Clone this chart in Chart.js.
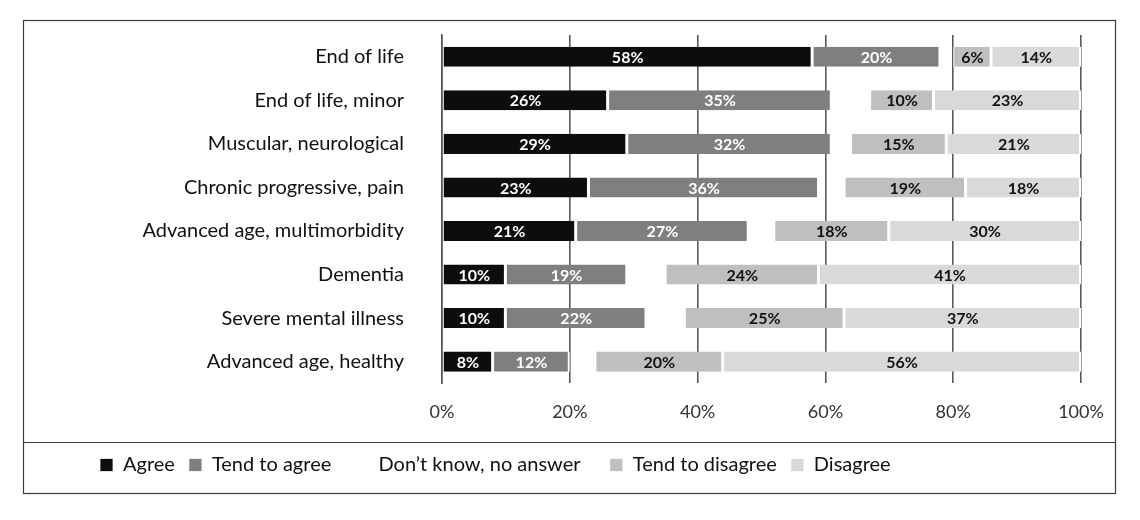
<!DOCTYPE html>
<html>
<head>
<meta charset="utf-8">
<style>
  html, body { margin: 0; padding: 0; background: #fff; }
  #wrap { width: 1140px; height: 520px; }
</style>
<script src="https://cdn.jsdelivr.net/npm/chart.js@4.4.0/dist/chart.umd.min.js"></script>
</head>
<body>
<div id="wrap"><canvas id="opinionChart" width="1140" height="520"></canvas></div>
<script>
const categories = [
  "End of life",
  "End of life, minor",
  "Muscular, neurological",
  "Chronic progressive, pain",
  "Advanced age, multimorbidity",
  "Dementia",
  "Severe mental illness",
  "Advanced age, healthy"
];
const agree = [58, 26, 29, 23, 21, 10, 10, 8];
const tendAgree = [20, 35, 32, 36, 27, 19, 22, 12];
const dontKnow = [2, 6, 3, 4, 4, 6, 6, 4];
const tendDisagree = [6, 10, 15, 19, 18, 24, 25, 20];
const disagree = [14, 23, 21, 18, 30, 41, 37, 56];
const xTicks = [0, 20, 40, 60, 80, 100];

const FONT = "Lato, 'Open Sans', sans-serif";
const LEFT = 86;

// value labels inside the bars (no datalabels plugin available)
const barLabels = {
  id: "barLabels",
  afterDatasetsDraw(chart) {
    const ctx = chart.ctx;
    ctx.save();
    ctx.font = "bold 16px " + FONT;
    ctx.textAlign = "center";
    ctx.textBaseline = "middle";
    chart.data.datasets.forEach((ds, di) => {
      if (!ds.showValues) return;
      const meta = chart.getDatasetMeta(di);
      meta.data.forEach((bar, i) => {
        ctx.fillStyle = ds.valueColor;
        ctx.fillText(ds.data[i] + "%", (bar.x + bar.base) / 2, bar.y + 1);
      });
    });
    ctx.restore();
  }
};

// outer frame and the line above the legend
const frame = {
  id: "frame",
  afterDraw(chart) {
    const ctx = chart.ctx;
    ctx.save();
    ctx.strokeStyle = "#3a3a3a";
    ctx.lineWidth = 1.2;
    ctx.strokeRect(23.5, 20.5, 1092, 473);
    ctx.beginPath();
    ctx.moveTo(23.5, 442.5);
    ctx.lineTo(1115.5, 442.5);
    ctx.stroke();
    ctx.restore();
  }
};

const opinionChart = new Chart(document.getElementById("opinionChart"), {
  type: "bar",
  data: {
    labels: categories,
    datasets: [
      { label: "Agree", data: agree, backgroundColor: "#0d0d0d", showValues: true, valueColor: "#fff" },
      { label: "Tend to agree", data: tendAgree, backgroundColor: "#7f7f7f", showValues: true, valueColor: "#fff" },
      // extra spaces give this entry the wider gaps it has in the original legend
      { label: "  Don\u2019t know, no answer   ", data: dontKnow, backgroundColor: "rgba(255,255,255,0)", borderWidth: 0, showValues: false },
      { label: "Tend to disagree", data: tendDisagree, backgroundColor: "#bfbfbf", showValues: true, valueColor: "#111" },
      { label: "Disagree", data: disagree, backgroundColor: "#d9d9d9", showValues: true, valueColor: "#111" }
    ]
  },
  options: {
    indexAxis: "y",
    responsive: false,
    animation: false,
    devicePixelRatio: 1,
    layout: { padding: { left: LEFT, right: 59, top: 35, bottom: 35 } },
    datasets: {
      bar: {
        barPercentage: 1,
        categoryPercentage: 0.46,
        borderColor: "#ffffff",
        borderWidth: { left: 1, right: 2, top: 0, bottom: 0 },
        borderSkipped: false
      }
    },
    scales: {
      x: {
        stacked: true,
        min: 0,
        max: 100,
        afterBuildTicks: axis => { axis.ticks = xTicks.map(v => ({ value: v })); },
        ticks: {
          callback: v => v + "%",
          color: "#333",
          padding: 18,
          font: { family: FONT, size: 18 }
        },
        grid: { color: "#595959", lineWidth: 1.6, drawTicks: false },
        border: { display: false }
      },
      y: {
        stacked: true,
        afterFit: axis => {
          axis.width = 442 - LEFT;
          axis.paddingTop = 0;
          axis.paddingBottom = 0;
        },
        ticks: {
          color: "#111",
          padding: 38,
          font: { family: FONT, size: 20 }
        },
        grid: { display: false, drawTicks: false },
        border: { display: true, color: "#595959", width: 1.6 }
      }
    },
    plugins: {
      legend: {
        position: "bottom",
        align: "start",
        labels: {
          boxWidth: 13,
          boxHeight: 13,
          padding: 14,
          color: "#111",
          font: { family: FONT, size: 20 }
        }
      },
      tooltip: { enabled: false }
    }
  },
  plugins: [barLabels, frame]
});
</script>
</body>
</html>
